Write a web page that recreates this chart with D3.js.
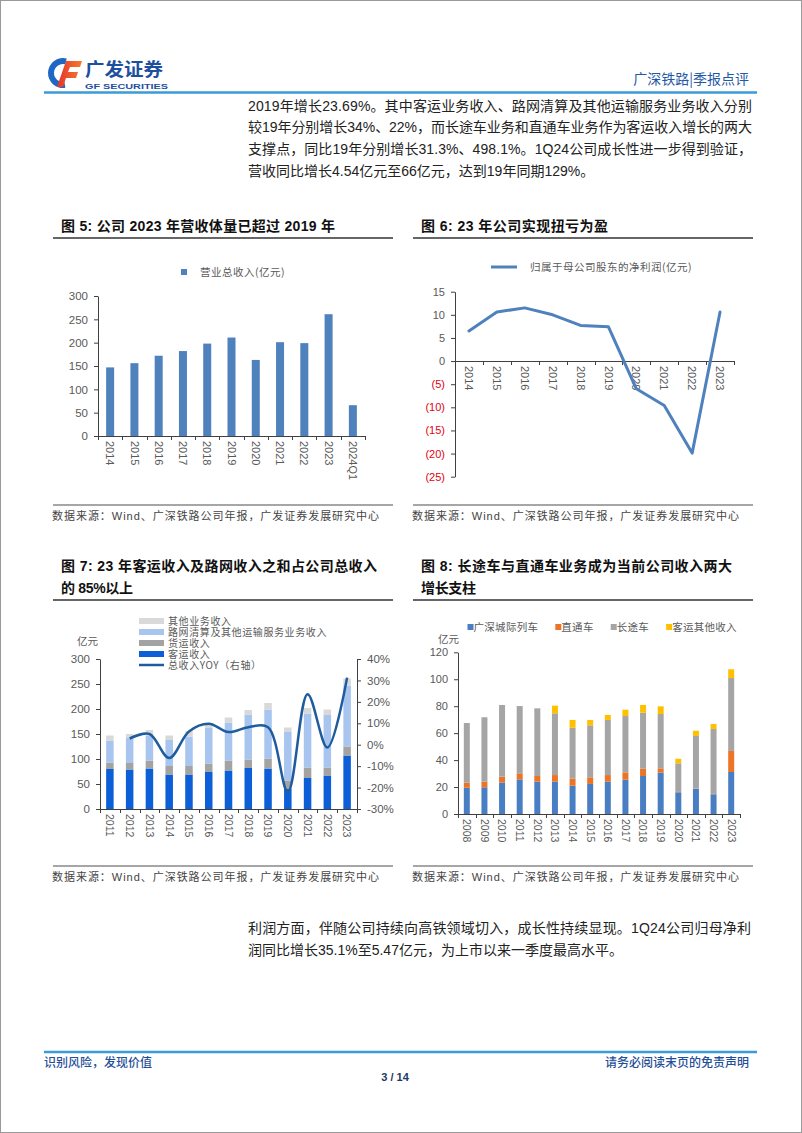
<!DOCTYPE html>
<meta charset="utf-8">
<style>
body { margin: 0; background: #fff; }
svg { display: block; }
text { font-family: "Liberation Sans", "Noto Sans CJK SC", sans-serif; }
.title { font-size: 14px; font-weight: bold; fill: #111; }
.para { font-size: 14px; fill: #222; }
.source { font-size: 11px; fill: #444; }
.legend text { font-size: 10.5px; fill: #595959; font-family: "Noto Sans CJK SC", sans-serif; }
.unit { font-size: 10.5px; fill: #595959; font-family: "Noto Sans CJK SC", sans-serif; }
.axis text { font-size: 11px; fill: #595959; font-family: "Liberation Sans", sans-serif; }
.axis path, .axis line { stroke: #404040; }
</style>
<body>
<svg width="802" height="1133"></svg>

<script src="https://cdnjs.cloudflare.com/ajax/libs/d3/7.8.5/d3.min.js"></script>
<script>

// ---- data: 图5 营业总收入(亿元)
var years5 = ["2014", "2015", "2016", "2017", "2018", "2019", "2020", "2021", "2022", "2023", "2024Q1"];
var revenue5 = [147, 156, 172, 182, 198, 211, 163, 201, 199, 261, 66];

// ---- data: 图6 归属于母公司股东的净利润(亿元)
var years6 = ["2014", "2015", "2016", "2017", "2018", "2019", "2020", "2021", "2022", "2023"];
var profit6 = [6.5, 10.6, 11.5, 10.0, 7.7, 7.4, -6.0, -9.6, -19.9, 10.6];
var ticks6 = [15, 10, 5, 0, -5, -10, -15, -20, -25];

// ---- data: 图7 收入构成(亿元) + 总收入YOY
var years7 = ["2011", "2012", "2013", "2014", "2015", "2016", "2017", "2018", "2019", "2020", "2021", "2022", "2023"];
var keyun7 = [80, 79, 81, 69, 69, 74, 77, 82, 81, 40, 62, 67, 107];     // 客运收入
var huoyun7 = [13, 13, 16, 17, 17, 17, 20, 17, 20, 17, 21, 16, 18];     // 货运收入
var luwang7 = [44, 50, 50, 52, 59, 71, 76, 90, 98, 97, 108, 105, 122];  // 路网清算及其他运输服务业务收入
var qita7 = [10, 8, 11, 9, 11, 10, 10, 9, 13, 9, 11, 11, 14];          // 其他业务收入
var yoyYears7 = ["2012", "2013", "2014", "2015", "2016", "2017", "2018", "2019", "2020", "2021", "2022", "2023"];
var yoy7 = [0.029, 0.050, -0.062, 0.062, 0.098, 0.059, 0.082, 0.082, -0.220, 0.236, -0.013, 0.313];
var names7 = ["其他业务收入", "路网清算及其他运输服务业务收入", "货运收入", "客运收入", "总收入YOY（右轴）"];

// ---- data: 图8 客运收入构成(亿元)
var years8 = ["2008", "2009", "2010", "2011", "2012", "2013", "2014", "2015", "2016", "2017", "2018", "2019", "2020", "2021", "2022", "2023"];
var chengji8 = [19.5, 19.8, 23.3, 25.7, 24.0, 24.0, 21.0, 22.3, 24.0, 25.5, 28.2, 30.7, 16.1, 18.6, 14.6, 31.2];  // 广深城际列车
var zhitong8 = [3.8, 4.2, 4.4, 4.5, 4.2, 4.9, 5.2, 4.9, 4.9, 5.4, 5.4, 3.2, 0.3, 0.2, 0.3, 15.6];          // 直通车
var changtu8 = [44.2, 47.8, 53.2, 49.9, 50.2, 45.8, 37.8, 38.6, 40.9, 41.8, 41.6, 40.3, 21.2, 39.1, 48.2, 54.1]; // 长途车
var qitakeyun8 = [0, 0, 0, 0, 0, 5.7, 5.8, 4.0, 3.7, 4.7, 5.7, 5.7, 3.4, 3.9, 3.7, 6.5];                 // 客运其他收入
var names8 = ["广深城际列车", "直通车", "长途车", "客运其他收入"];

// ---- page text
var para1 = [
  "2019年增长23.69%。其中客运业务收入、路网清算及其他运输服务业务收入分别",
  "较19年分别增长34%、22%，而长途车业务和直通车业务作为客运收入增长的两大",
  "支撑点，同比19年分别增长31.3%、498.1%。1Q24公司成长性进一步得到验证，",
  "营收同比增长4.54亿元至66亿元，达到19年同期129%。"
];
var para2 = [
  "利润方面，伴随公司持续向高铁领域切入，成长性持续显现。1Q24公司归母净利",
  "润同比增长35.1%至5.47亿元，为上市以来一季度最高水平。"
];
var sourceText = "数据来源：Wind、广深铁路公司年报，广发证券发展研究中心";

var svg = d3.select("svg");

// page frame
svg.append("rect").attr("x", 0.5).attr("y", 0.5).attr("width", 801).attr("height", 1132)
    .attr("fill", "#fff").attr("stroke", "#9a9a9a");

// ---------- header / logo
var defs = svg.append("defs");
var grad = defs.append("linearGradient").attr("id", "red").attr("x1", 0).attr("x2", 1);
grad.append("stop").attr("offset", 0).attr("stop-color", "#e5322d");
grad.append("stop").attr("offset", 1).attr("stop-color", "#f47c2c");

var logo = svg.append("g");
logo.append("path")
    .attr("transform", "translate(63,73)")
    .attr("d", d3.arc().innerRadius(9).outerRadius(15).startAngle(Math.PI * 0.95).endAngle(Math.PI * 2.08)())
    .attr("fill", "#1f67c4");
logo.append("path")
    .attr("d", "M66,61 L82,61 L80,67 L70,67 L68,72 L78,72 L76,78 L66,78 L63,87 L57,87 Z")
    .attr("fill", "url(#red)");
logo.append("text").attr("x", 85).attr("y", 76)
    .style("font-family", "Noto Sans CJK SC").style("font-weight", "bold").style("font-size", "18px")
    .attr("textLength", 78).attr("lengthAdjust", "spacingAndGlyphs")
    .attr("fill", "#1d4f9f").text("广发证券");
logo.append("text").attr("x", 85).attr("y", 89)
    .style("font-weight", "bold").style("font-size", "7.5px")
    .attr("textLength", 83).attr("lengthAdjust", "spacingAndGlyphs")
    .attr("fill", "#1d4f9f").text("GF SECURITIES");

svg.append("text").attr("x", 749).attr("y", 84).attr("text-anchor", "end")
    .style("font-family", "Noto Sans CJK SC").style("font-size", "14px")
    .attr("fill", "#1f5aa6").text("广深铁路|季报点评");
svg.append("line").attr("x1", 44).attr("x2", 757).attr("y1", 92.5).attr("y2", 92.5)
    .attr("stroke", "#3a9bd8").attr("stroke-width", 2.5);

// ---------- paragraphs
function paragraph(lines, x0, y0, justify) {
  svg.selectAll(null).data(lines).join("text")
      .attr("class", "para")
      .attr("x", x0)
      .attr("y", function(d, i) { return y0 + i * 21.7; })
      .attr("textLength", function(d, i) { return i < lines.length - 1 ? justify : null; })
      .attr("lengthAdjust", "spacing")
      .text(function(d) { return d; });
}
paragraph(para1, 248, 110.5, 504);
paragraph(para2, 248, 933, 503);

// ---------- helpers
// titleLines: [text, width] pairs, spread out like the report's wide title spacing
function chartFrame(x0, x1, titleLines, topY, bottomY) {
  svg.selectAll(null).data(titleLines).join("text")
      .attr("class", "title")
      .attr("x", x0 + 8)
      .attr("y", function(d, i) { return topY - 7 - (titleLines.length - 1 - i) * 22; })
      .attr("textLength", function(d) { return d[1]; })
      .attr("lengthAdjust", "spacing")
      .text(function(d) { return d[0]; });
  svg.append("line").attr("x1", x0).attr("x2", x1).attr("y1", topY).attr("y2", topY)
      .attr("stroke", "#333").attr("stroke-width", 1.5);
  svg.append("line").attr("x1", x0).attr("x2", x1).attr("y1", bottomY).attr("y2", bottomY)
      .attr("stroke", "#a6a6a6").attr("stroke-width", 2);
  svg.append("text").attr("class", "source")
      .attr("x", x0 - 1).attr("y", bottomY + 15)
      .attr("textLength", 327).attr("lengthAdjust", "spacing")
      .text(sourceText);
}

function categoryAxis(x, y0, fs) {
  var ax = svg.append("g").attr("class", "axis").attr("transform", "translate(0," + y0 + ")")
      .call(d3.axisBottom(x).tickSize(0).tickSizeOuter(0).tickPadding(0));
  ax.selectAll(".tick text")
      .attr("transform", "rotate(90)")
      .attr("x", 5).attr("y", 0).attr("dy", "0.35em")
      .attr("text-anchor", "start")
      .style("font-size", fs + "px");
  var edges = x.domain().map(function(d) { return x(d); }).concat([x.range()[1]]);
  ax.selectAll("line.edge").data(edges).join("line").attr("class", "edge")
      .attr("x1", function(d) { return Math.round(d) + 0.5; })
      .attr("x2", function(d) { return Math.round(d) + 0.5; })
      .attr("y1", 0).attr("y2", 4);
  return ax;
}

function valueAxis(side, y, xPos, tickVals, fmt, fs) {
  var axis = (side === "left" ? d3.axisLeft(y) : d3.axisRight(y))
      .tickValues(tickVals).tickFormat(fmt).tickSize(4).tickSizeOuter(0).tickPadding(6);
  var ax = svg.append("g").attr("class", "axis").attr("transform", "translate(" + xPos + ",0)").call(axis);
  ax.selectAll(".tick text").style("font-size", fs + "px");
  return ax;
}

// ---------- 图5
chartFrame(53, 393, [["图 5: 公司 2023 年营收体量已超过 2019 年", 274]], 238, 505);

var x5 = d3.scaleBand().domain(years5).range([98, 365]);
var y5 = d3.scaleLinear().domain([0, 300]).range([436, 296]);

svg.append("g").selectAll("rect").data(revenue5).join("rect")
    .attr("x", function(d, i) { return x5(years5[i]) + x5.bandwidth() * 0.335; })
    .attr("width", x5.bandwidth() * 0.33)
    .attr("y", function(d) { return y5(d); })
    .attr("height", function(d) { return y5(0) - y5(d); })
    .attr("fill", "#4f81bd");

valueAxis("left", y5, 98, d3.range(0, 301, 50), d3.format("d"), 11.5);
categoryAxis(x5, 436, 11);

var lg5 = svg.append("g").attr("class", "legend");
lg5.append("rect").attr("x", 181).attr("y", 269).attr("width", 6).attr("height", 6).attr("fill", "#4f81bd");
lg5.append("text").attr("x", 200).attr("y", 276).style("letter-spacing", "0.5px").text("营业总收入(亿元)");

// ---------- 图6
chartFrame(413, 753, [["图 6: 23 年公司实现扭亏为盈", 187]], 238, 505);

var x6 = d3.scaleBand().domain(years6).range([455, 734]);
var y6 = d3.scaleLinear().domain([-25, 15]).range([476.7, 291.7]);

var ay6 = valueAxis("left", y6, 455, ticks6, function(d) { return d < 0 ? "(" + (-d) + ")" : d; }, 11);
ay6.selectAll(".tick text").style("fill", function(d) { return d < 0 ? "#e3000f" : null; });
categoryAxis(x6, Math.round(y6(0)), 11);

svg.append("path")
    .datum(profit6)
    .attr("fill", "none").attr("stroke", "#4f81bd").attr("stroke-width", 3)
    .attr("stroke-linejoin", "round").attr("stroke-linecap", "round")
    .attr("d", d3.line()
        .x(function(d, i) { return x6(years6[i]) + x6.bandwidth() / 2; })
        .y(function(d) { return y6(d); }));

var lg6 = svg.append("g").attr("class", "legend");
lg6.append("line").attr("x1", 491).attr("x2", 517).attr("y1", 267).attr("y2", 267)
    .attr("stroke", "#4f81bd").attr("stroke-width", 3);
lg6.append("text").attr("x", 530).attr("y", 271).style("letter-spacing", "0.5px").text("归属于母公司股东的净利润(亿元)");

// ---------- 图7
chartFrame(53, 393, [["图 7: 23 年客运收入及路网收入之和占公司总收入", 316], ["的 85%以上", 72]], 600, 866);

var x7 = d3.scaleBand().domain(years7).range([100, 357]);
var y7 = d3.scaleLinear().domain([0, 300]).range([809, 659]);
var yr7 = d3.scaleLinear().domain([-0.3, 0.4]).range([809, 659]);
var colors7 = { keyun: "#0d5fd8", huoyun: "#a3a3a3", luwang: "#a7c5ef", qita: "#d9d9d9" };

var rows7 = years7.map(function(y, i) {
  return { year: y, keyun: keyun7[i], huoyun: huoyun7[i], luwang: luwang7[i], qita: qita7[i] };
});
var stack7 = d3.stack().keys(["keyun", "huoyun", "luwang", "qita"])(rows7);

svg.append("g").selectAll("g").data(stack7).join("g")
    .attr("fill", function(s) { return colors7[s.key]; })
    .selectAll("rect").data(function(s) { return s; }).join("rect")
    .attr("x", function(d) { return x7(d.data.year) + x7.bandwidth() * 0.31; })
    .attr("width", x7.bandwidth() * 0.38)
    .attr("y", function(d) { return y7(d[1]); })
    .attr("height", function(d) { return y7(d[0]) - y7(d[1]); });

valueAxis("left", y7, 100, d3.range(0, 301, 50), d3.format("d"), 11.5);
valueAxis("right", yr7, 357, [-0.3, -0.2, -0.1, 0, 0.1, 0.2, 0.3, 0.4],
    function(d) { return Math.round(d * 100) + "%"; }, 11.5);
categoryAxis(x7, 809, 10.5);

svg.append("path")
    .datum(yoy7)
    .attr("fill", "none").attr("stroke", "#1f5c9e").attr("stroke-width", 2.5)
    .attr("d", d3.line()
        .x(function(d, i) { return x7(yoyYears7[i]) + x7.bandwidth() / 2; })
        .y(function(d) { return yr7(d); })
        .curve(d3.curveCatmullRom.alpha(0.5)));

svg.append("text").attr("class", "unit").attr("x", 77).attr("y", 645).text("亿元");

var lg7 = svg.append("g").attr("class", "legend");
var swatch7 = [colors7.qita, colors7.luwang, colors7.huoyun, colors7.keyun, "#1f5c9e"];
names7.forEach(function(n, i) {
  var cy = 621 + i * 11;
  if (i < 4) {
    lg7.append("rect").attr("x", 139).attr("y", cy - 3).attr("width", 25).attr("height", 6).attr("fill", swatch7[i]);
  } else {
    lg7.append("line").attr("x1", 139).attr("x2", 164).attr("y1", cy).attr("y2", cy)
        .attr("stroke", swatch7[i]).attr("stroke-width", 2.5);
  }
  lg7.append("text").attr("x", 168).attr("y", cy + 3.5).style("font-size", "10px")
      .style("letter-spacing", "0.6px").text(n);
});

// ---------- 图8
chartFrame(413, 753, [["图 8: 长途车与直通车业务成为当前公司收入两大", 311], ["增长支柱", 55]], 600, 866);

var x8 = d3.scaleBand().domain(years8).range([458, 740]);
var y8 = d3.scaleLinear().domain([0, 120]).range([814, 652.3]);
var keys8 = ["chengji", "zhitong", "changtu", "qita"];
var colors8 = { chengji: "#4a7ec2", zhitong: "#ec7426", changtu: "#a5a5a5", qita: "#ffc000" };

var rows8 = years8.map(function(y, i) {
  return { year: y, chengji: chengji8[i], zhitong: zhitong8[i], changtu: changtu8[i], qita: qitakeyun8[i] };
});
var stack8 = d3.stack().keys(keys8)(rows8);

svg.append("g").selectAll("g").data(stack8).join("g")
    .attr("fill", function(s) { return colors8[s.key]; })
    .selectAll("rect").data(function(s) { return s; }).join("rect")
    .attr("x", function(d) { return x8(d.data.year) + x8.bandwidth() * 0.33; })
    .attr("width", x8.bandwidth() * 0.34)
    .attr("y", function(d) { return y8(d[1]); })
    .attr("height", function(d) { return y8(d[0]) - y8(d[1]); });

valueAxis("left", y8, 458, d3.range(0, 121, 20), d3.format("d"), 11);
categoryAxis(x8, 814, 10.5);

svg.append("text").attr("class", "unit").attr("x", 438).attr("y", 643).text("亿元");

var lg8 = svg.append("g").attr("class", "legend");
var lx = 467.5;
names8.forEach(function(n, i) {
  lg8.append("rect").attr("x", lx).attr("y", 624).attr("width", 6).attr("height", 6).attr("fill", colors8[keys8[i]]);
  var t = lg8.append("text").attr("x", lx + 6).attr("y", 631).style("letter-spacing", "0.3px").text(n);
  lx += 6 + t.node().getComputedTextLength() + 17;
});

// ---------- footer
svg.append("line").attr("x1", 44).attr("x2", 757).attr("y1", 1052).attr("y2", 1052)
    .attr("stroke", "#3a9bd8").attr("stroke-width", 2.5);
svg.append("text").attr("x", 44).attr("y", 1066.5)
    .style("font-family", "Noto Sans CJK SC").style("font-size", "12px").style("font-weight", "500")
    .attr("fill", "#1f4f98").text("识别风险，发现价值");
svg.append("text").attr("x", 749).attr("y", 1066.5).attr("text-anchor", "end")
    .style("font-family", "Noto Sans CJK SC").style("font-size", "12px").style("font-weight", "500")
    .attr("fill", "#1f4f98").text("请务必阅读末页的免责声明");
svg.append("text").attr("x", 395).attr("y", 1081).attr("text-anchor", "middle")
    .style("font-size", "11px").style("font-weight", "bold")
    .attr("fill", "#1f3864").text("3 / 14");

</script>
</body>
